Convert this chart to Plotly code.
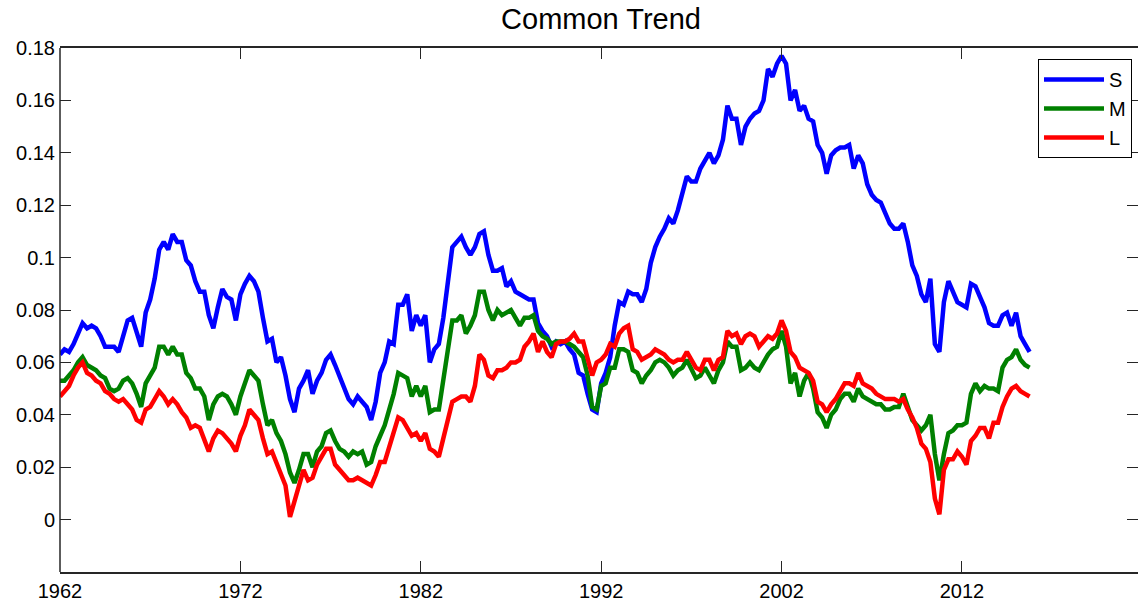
import plotly.graph_objects as go

# Quarterly readings starting 1962.00, step 0.25 year
start_year = 1962.0
step = 0.25

S = [
    0.063, 0.065, 0.064, 0.067, 0.071, 0.075, 0.073, 0.074,  # 1962-63
    0.073, 0.070, 0.066, 0.066, 0.066, 0.064, 0.070, 0.076,  # 1964-65
    0.077, 0.072, 0.066, 0.079, 0.084, 0.092, 0.103, 0.106,  # 1966-67
    0.103, 0.109, 0.106, 0.106, 0.099, 0.097, 0.091, 0.087,  # 1968-69
    0.087, 0.078, 0.073, 0.081, 0.088, 0.085, 0.084, 0.076,  # 1970-71
    0.086, 0.090, 0.093, 0.091, 0.087, 0.077, 0.068, 0.069,  # 1972-73
    0.060, 0.062, 0.055, 0.046, 0.041, 0.050, 0.053, 0.057,  # 1974-75
    0.048, 0.053, 0.056, 0.061, 0.063, 0.059, 0.055, 0.050,  # 1976-77
    0.046, 0.044, 0.047, 0.045, 0.043, 0.038, 0.045, 0.056,  # 1978-79
    0.060, 0.068, 0.067, 0.082, 0.082, 0.086, 0.072, 0.078,  # 1980-81
    0.074, 0.078, 0.060, 0.065, 0.067, 0.077, 0.090, 0.104,  # 1982-83
    0.106, 0.108, 0.104, 0.101, 0.104, 0.109, 0.110, 0.101,  # 1984-85
    0.095, 0.095, 0.096, 0.089, 0.091, 0.087, 0.086, 0.085,  # 1986-87
    0.084, 0.084, 0.075, 0.072, 0.070, 0.066, 0.068, 0.067,  # 1988-89
    0.068, 0.065, 0.063, 0.056, 0.055, 0.048, 0.042, 0.041,  # 1990-91
    0.052, 0.056, 0.062, 0.074, 0.083, 0.082, 0.087, 0.086,  # 1992-93
    0.086, 0.083, 0.088, 0.098, 0.104, 0.108, 0.111, 0.115,  # 1994-95
    0.113, 0.118, 0.125, 0.131, 0.129, 0.129, 0.134, 0.137,  # 1996-97
    0.140, 0.136, 0.139, 0.145, 0.158, 0.153, 0.153, 0.143,  # 1998-99
    0.150, 0.153, 0.155, 0.156, 0.160, 0.172, 0.169, 0.174,  # 2000-01
    0.177, 0.174, 0.160, 0.164, 0.156, 0.158, 0.153, 0.152,  # 2002-03
    0.143, 0.140, 0.132, 0.139, 0.141, 0.142, 0.142, 0.143,  # 2004-05
    0.134, 0.139, 0.136, 0.128, 0.124, 0.122, 0.121, 0.117,  # 2006-07
    0.113, 0.111, 0.111, 0.113, 0.106, 0.097, 0.093, 0.086,  # 2008-09
    0.083, 0.092, 0.067, 0.064, 0.083, 0.091, 0.087, 0.083,  # 2010-11
    0.082, 0.081, 0.090, 0.089, 0.085, 0.081, 0.075, 0.074,  # 2012-13
    0.074, 0.078, 0.079, 0.074, 0.079, 0.070, 0.067, 0.064,  # 2014-15
]

M = [
    0.053, 0.053, 0.055, 0.057, 0.060, 0.062, 0.059, 0.058,  # 1962-63
    0.057, 0.055, 0.054, 0.050, 0.049, 0.050, 0.053, 0.054,  # 1964-65
    0.052, 0.048, 0.043, 0.052, 0.055, 0.058, 0.066, 0.066,  # 1966-67
    0.063, 0.066, 0.063, 0.063, 0.056, 0.054, 0.050, 0.050,  # 1968-69
    0.047, 0.038, 0.044, 0.047, 0.048, 0.047, 0.044, 0.040,  # 1970-71
    0.047, 0.052, 0.057, 0.055, 0.053, 0.044, 0.036, 0.038,  # 1972-73
    0.033, 0.030, 0.025, 0.018, 0.014, 0.019, 0.025, 0.025,  # 1974-75
    0.020, 0.026, 0.028, 0.033, 0.034, 0.030, 0.027, 0.026,  # 1976-77
    0.024, 0.026, 0.025, 0.026, 0.021, 0.022, 0.028, 0.032,  # 1978-79
    0.036, 0.042, 0.048, 0.056, 0.055, 0.054, 0.047, 0.051,  # 1980-81
    0.047, 0.051, 0.041, 0.042, 0.042, 0.053, 0.064, 0.076,  # 1982-83
    0.076, 0.078, 0.071, 0.074, 0.078, 0.087, 0.087, 0.080,  # 1984-85
    0.076, 0.080, 0.078, 0.079, 0.080, 0.077, 0.074, 0.077,  # 1986-87
    0.077, 0.078, 0.072, 0.070, 0.069, 0.067, 0.068, 0.068,  # 1988-89
    0.068, 0.067, 0.066, 0.064, 0.062, 0.055, 0.043, 0.042,  # 1990-91
    0.051, 0.052, 0.058, 0.058, 0.065, 0.065, 0.064, 0.057,  # 1992-93
    0.056, 0.052, 0.055, 0.057, 0.060, 0.061, 0.060, 0.058,  # 1994-95
    0.055, 0.057, 0.058, 0.061, 0.057, 0.054, 0.055, 0.058,  # 1996-97
    0.055, 0.052, 0.057, 0.060, 0.068, 0.066, 0.066, 0.057,  # 1998-99
    0.058, 0.060, 0.058, 0.057, 0.060, 0.063, 0.065, 0.066,  # 2000-01
    0.072, 0.066, 0.052, 0.056, 0.047, 0.053, 0.056, 0.050,  # 2002-03
    0.041, 0.039, 0.035, 0.040, 0.042, 0.046, 0.048, 0.048,  # 2004-05
    0.045, 0.050, 0.047, 0.046, 0.045, 0.044, 0.044, 0.042,  # 2006-07
    0.042, 0.043, 0.043, 0.048, 0.043, 0.038, 0.036, 0.034,  # 2008-09
    0.036, 0.040, 0.025, 0.015, 0.025, 0.033, 0.034, 0.036,  # 2010-11
    0.036, 0.037, 0.048, 0.052, 0.049, 0.051, 0.050, 0.050,  # 2012-13
    0.049, 0.058, 0.061, 0.062, 0.065, 0.061, 0.059, 0.058,  # 2014-15
]

L = [
    0.047, 0.049, 0.051, 0.055, 0.058, 0.060, 0.056, 0.055,  # 1962-63
    0.053, 0.052, 0.049, 0.048, 0.046, 0.045, 0.046, 0.044,  # 1964-65
    0.042, 0.038, 0.037, 0.042, 0.043, 0.046, 0.049, 0.047,  # 1966-67
    0.044, 0.046, 0.044, 0.041, 0.039, 0.035, 0.036, 0.035,  # 1968-69
    0.030, 0.026, 0.031, 0.034, 0.033, 0.031, 0.029, 0.026,  # 1970-71
    0.032, 0.036, 0.042, 0.040, 0.038, 0.031, 0.025, 0.026,  # 1972-73
    0.022, 0.018, 0.013, 0.001, 0.007, 0.013, 0.019, 0.015,  # 1974-75
    0.016, 0.021, 0.024, 0.027, 0.027, 0.021, 0.019, 0.017,  # 1976-77
    0.015, 0.015, 0.016, 0.015, 0.014, 0.013, 0.017, 0.022,  # 1978-79
    0.022, 0.028, 0.034, 0.039, 0.038, 0.035, 0.032, 0.033,  # 1980-81
    0.030, 0.033, 0.027, 0.026, 0.024, 0.031, 0.038, 0.045,  # 1982-83
    0.046, 0.047, 0.047, 0.045, 0.051, 0.063, 0.061, 0.055,  # 1984-85
    0.054, 0.057, 0.057, 0.058, 0.060, 0.060, 0.061, 0.066,  # 1986-87
    0.068, 0.071, 0.064, 0.068, 0.064, 0.062, 0.067, 0.068,  # 1988-89
    0.068, 0.069, 0.071, 0.068, 0.068, 0.062, 0.055, 0.060,  # 1990-91
    0.061, 0.063, 0.067, 0.066, 0.071, 0.073, 0.074, 0.065,  # 1992-93
    0.064, 0.061, 0.062, 0.063, 0.065, 0.064, 0.063, 0.061,  # 1994-95
    0.060, 0.061, 0.061, 0.064, 0.061, 0.058, 0.057, 0.061,  # 1996-97
    0.061, 0.057, 0.061, 0.062, 0.072, 0.070, 0.071, 0.067,  # 1998-99
    0.070, 0.071, 0.070, 0.066, 0.068, 0.070, 0.069, 0.071,  # 2000-01
    0.076, 0.072, 0.064, 0.062, 0.058, 0.057, 0.056, 0.053,  # 2002-03
    0.045, 0.044, 0.041, 0.044, 0.046, 0.049, 0.052, 0.052,  # 2004-05
    0.051, 0.056, 0.052, 0.051, 0.050, 0.048, 0.047, 0.046,  # 2006-07
    0.046, 0.046, 0.045, 0.046, 0.042, 0.039, 0.035, 0.029,  # 2008-09
    0.027, 0.022, 0.008, 0.002, 0.019, 0.023, 0.023, 0.026,  # 2010-11
    0.024, 0.021, 0.030, 0.032, 0.035, 0.035, 0.031, 0.037,  # 2012-13
    0.037, 0.043, 0.047, 0.050, 0.051, 0.049, 0.048, 0.047,  # 2014-15
]

series_names = ["S", "M", "L"]
series_colors = ["#0000FF", "#008000", "#FF0000"]

x_tick_vals = [1962, 1972, 1982, 1992, 2002, 2012, 2022]
x_tick_text = ["1962", "1972", "1982", "1992", "2002", "2012", "2022"]
y_tick_vals = [0, 0.02, 0.04, 0.06, 0.08, 0.10, 0.12, 0.14, 0.16, 0.18]
y_tick_text = ["0", "0.02", "0.04", "0.06", "0.08", "0.1", "0.12", "0.14", "0.16", "0.18"]

FONT = "Arial, Liberation Sans, Helvetica, sans-serif"

fig = go.Figure()
for name, vals, col in zip(series_names, [S, M, L], series_colors):
    xs = [start_year + step * i for i in range(len(vals))]
    fig.add_trace(go.Scatter(x=xs, y=vals, mode="lines", name=name,
                             line=dict(color=col, width=4.5)))

fig.update_layout(
    width=1138, height=606,
    margin=dict(l=60, r=0, t=48, b=34, autoexpand=False),
    paper_bgcolor="white", plot_bgcolor="white",
    font=dict(family=FONT, size=20, color="#000000"),
    title=dict(text="Common Trend", x=(601 / 1138), xanchor="center",
               y=1 - 19 / 606, yanchor="middle", yref="container",
               font=dict(size=29, family=FONT, color="#000000")),
    showlegend=True,
    legend=dict(x=(1132 - 60) / 1078, xref="paper", xanchor="right",
                y=(572 - 59) / 524, yref="paper", yanchor="top",
                bordercolor="#000000", borderwidth=1, bgcolor="white",
                font=dict(size=20, family=FONT, color="#000000"),
                tracegroupgap=0, itemwidth=60),
    xaxis=dict(range=[1962, 2021.76], tickvals=x_tick_vals, ticktext=x_tick_text,
               showgrid=False, zeroline=False, showline=True, linecolor="#262626",
               linewidth=1.5, mirror="ticks", ticks="inside", ticklen=11,
               tickcolor="#262626", tickwidth=1, tickfont=dict(size=20)),
    yaxis=dict(range=[-0.02, 0.18], tickvals=y_tick_vals, ticktext=y_tick_text,
               showgrid=False, zeroline=False, showline=False,
               mirror="ticks", ticks="inside", ticklen=11,
               tickcolor="#262626", tickwidth=1, tickfont=dict(size=20),
               ticklabelstandoff=4),
    shapes=[dict(type="line", xref="paper", yref="paper", x0=0, x1=0, y0=0, y1=1,
                 line=dict(color="#262626", width=1.5))],
)

fig.write_html("out.html", config={"displayModeBar": False},
               post_script="document.body.style.margin='0';document.body.style.overflow='hidden';")
